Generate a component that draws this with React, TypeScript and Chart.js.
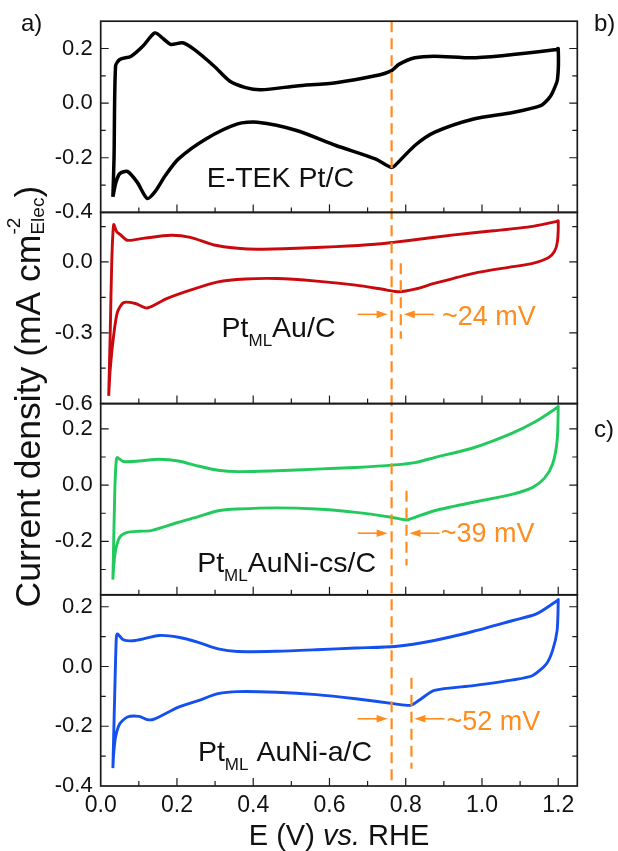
import React, { useEffect, useRef } from 'react';
import { Chart, registerables } from 'chart.js';

Chart.register(...registerables);

const FONT = '"Liberation Sans", Arial, Helvetica, sans-serif';
const ORANGE = '#FF8C1E';
const FRAME = '#1a1a1a';

// ---------- axis text ----------
const X_TICK_LABELS = ['0.0', '0.2', '0.4', '0.6', '0.8', '1.0', '1.2'];
const Y1_TICK_LABELS = ['-0.4', '-0.2', '0.0', '0.2'];
const Y2_TICK_LABELS = ['-0.6', '-0.3', '0.0'];
const Y3_TICK_LABELS = ['-0.2', '0.0', '0.2'];
const Y4_TICK_LABELS = ['-0.4', '-0.2', '0.0', '0.2'];

// ---------- E-TEK Pt/C (black) ----------
const ETEK_E = [
  0.032, 0.035, 0.039, 0.05, 0.08, 0.111, 0.142, 0.165, 0.184, 0.215, 0.246, 0.297, 0.338, 0.38, 0.421,
  0.514, 0.617, 0.72, 0.762, 0.782, 0.824, 0.875, 0.978, 1.081, 1.195, 1.2,
  1.198, 1.185, 1.174, 1.154, 1.081, 0.978, 0.875, 0.824, 0.772, 0.762, 0.72, 0.617, 0.514, 0.411,
  0.359, 0.276, 0.204, 0.17, 0.142, 0.122, 0.096, 0.07, 0.05, 0.04, 0.032,
];
const ETEK_J = [
  -0.343, -0.2, 0.136, 0.16, 0.172, 0.209, 0.257, 0.235, 0.215, 0.221, 0.196, 0.136, 0.081, 0.057, 0.049,
  0.063, 0.075, 0.1, 0.118, 0.142, 0.166, 0.172, 0.166, 0.178, 0.196, 0.2,
  0.087, 0.039, 0.015, -0.009, -0.034, -0.058, -0.107, -0.155, -0.228, -0.235, -0.204, -0.155, -0.1, -0.07,
  -0.076, -0.131, -0.204, -0.264, -0.325, -0.349, -0.29, -0.25, -0.258, -0.29, -0.343,
];

// ---------- PtML Au/C (red) ----------
const PTAU_E = [
  0.021, 0.025, 0.029, 0.034, 0.042, 0.05, 0.07, 0.111, 0.184, 0.235, 0.297, 0.359, 0.411, 0.514, 0.617,
  0.72, 0.772, 0.824, 0.927, 1.03, 1.133, 1.197, 1.2,
  1.198, 1.19, 1.174, 1.133, 1.081, 0.978, 0.875, 0.824, 0.782, 0.751, 0.669, 0.566, 0.462, 0.38, 0.308,
  0.235, 0.173, 0.122, 0.091, 0.06, 0.044, 0.034, 0.025, 0.021,
];
const PTAU_J = [
  -0.567, -0.3, 0.0, 0.158, 0.128, 0.118, 0.092, 0.1, 0.113, 0.104, 0.072, 0.058, 0.054, 0.058, 0.065,
  0.075, 0.084, 0.094, 0.115, 0.132, 0.151, 0.172, 0.175,
  0.087, 0.044, 0.018, -0.006, -0.02, -0.048, -0.091, -0.115, -0.126, -0.119, -0.098, -0.081, -0.07, -0.072, -0.084,
  -0.119, -0.155, -0.195, -0.176, -0.172, -0.212, -0.311, -0.453, -0.567,
];

// ---------- PtML AuNi-cs/C (green) ----------
const PTCS_E = [
  0.032, 0.037, 0.041, 0.044, 0.06, 0.101, 0.153, 0.204, 0.256, 0.308, 0.359, 0.462, 0.566, 0.669, 0.772,
  0.824, 0.875, 0.978, 1.081, 1.143, 1.198, 1.2,
  1.197, 1.185, 1.164, 1.133, 1.081, 0.978, 0.875, 0.813, 0.803, 0.762, 0.669, 0.566, 0.462, 0.359, 0.308,
  0.256, 0.204, 0.132, 0.101, 0.07, 0.05, 0.039, 0.034, 0.032,
];
const PTCS_J = [
  -0.336, -0.02, 0.092, 0.098, 0.084, 0.086, 0.092, 0.086, 0.068, 0.053, 0.048, 0.051, 0.057, 0.063, 0.072,
  0.08, 0.098, 0.133, 0.186, 0.228, 0.277, 0.28,
  0.157, 0.074, 0.025, -0.008, -0.032, -0.061, -0.091, -0.12, -0.124, -0.114, -0.097, -0.085, -0.081, -0.085, -0.091,
  -0.112, -0.132, -0.162, -0.164, -0.168, -0.185, -0.232, -0.291, -0.336,
];

// ---------- PtML AuNi-a/C (blue) ----------
const PTA_E = [
  0.032, 0.037, 0.041, 0.044, 0.06, 0.091, 0.153, 0.204, 0.256, 0.308, 0.359, 0.462, 0.566, 0.669, 0.772,
  0.875, 0.978, 1.081, 1.143, 1.198, 1.2,
  1.197, 1.185, 1.169, 1.133, 1.081, 0.978, 0.875, 0.834, 0.813, 0.772, 0.669, 0.566, 0.462, 0.359, 0.308,
  0.256, 0.204, 0.142, 0.122, 0.101, 0.07, 0.05, 0.039, 0.034, 0.032,
];
const PTA_J = [
  -0.34, -0.08, 0.098, 0.109, 0.089, 0.087, 0.104, 0.098, 0.081, 0.059, 0.05, 0.051, 0.056, 0.062, 0.067,
  0.087, 0.118, 0.154, 0.176, 0.221, 0.224,
  0.12, 0.053, 0.009, -0.03, -0.045, -0.064, -0.08, -0.114, -0.13, -0.125, -0.108, -0.094, -0.086, -0.084, -0.091,
  -0.114, -0.136, -0.175, -0.178, -0.167, -0.169, -0.192, -0.236, -0.292, -0.34,
];

// ---------- annotations ----------
const MAIN_LINE_E = 0.763;
const SHIFT_AXES = ['y2', 'y3', 'y4'];
const SHIFT_MV = [24, 39, 52];
const SHIFT_DASH_J = [[-0.005, -0.325], [-0.02, -0.286], [-0.038, -0.342]];
const SHIFT_ARROW_J = [-0.222, -0.171, -0.175];
const SHIFT_LABEL_E = [0.895, 0.892, 0.907];
const SHIFT_LABEL_J = [-0.266, -0.203, -0.211];

const PANEL_LABEL_E = [0.278, 0.317, 0.253, 0.255];
const PANEL_LABEL_J = [-0.307, -0.318, -0.309, -0.316];

type Run = { t: string; size: number; dy?: number; italic?: boolean; overlap?: boolean };

const PANEL_LABEL_RUNS: Run[][] = [
  [{ t: 'E-TEK Pt/C', size: 28.5 }],
  [{ t: 'Pt', size: 28.5 }, { t: 'ML', size: 17, dy: 9 }, { t: 'Au/C', size: 28.5 }],
  [{ t: 'Pt', size: 28.5 }, { t: 'ML', size: 17, dy: 9 }, { t: 'AuNi-cs/C', size: 28.5 }],
  [{ t: 'Pt', size: 28.5 }, { t: 'ML', size: 17, dy: 9 }, { t: ' AuNi-a/C', size: 28.5 }],
];

const X_TITLE_RUNS: Run[] = [
  { t: 'E (V) ', size: 29 },
  { t: 'vs.', size: 29, italic: true },
  { t: ' RHE', size: 29 },
];
const Y_TITLE_RUNS: Run[] = [
  { t: 'Current density (mA cm', size: 35.5 },
  { t: '-2', size: 19, dy: -20, overlap: true },
  { t: 'Elec', size: 19, dy: 4 },
  { t: ')', size: 35.5 },
];
const CORNER_LABELS = ['a)', 'b)', 'c)'];

const PANELS = [
  { id: 'y1', E: ETEK_E, J: ETEK_J, color: '#000000', width: 3.5, min: -0.4, max: 0.3, step: 0.1, major: 0.2, labels: Y1_TICK_LABELS, weight: 4 },
  { id: 'y2', E: PTAU_E, J: PTAU_J, color: '#C80A0F', width: 2.9, min: -0.6, max: 0.21, step: 0.15, major: 0.3, labels: Y2_TICK_LABELS, weight: 3 },
  { id: 'y3', E: PTCS_E, J: PTCS_J, color: '#22C95C', width: 2.9, min: -0.39, max: 0.29, step: 0.1, major: 0.2, labels: Y3_TICK_LABELS, weight: 2 },
  { id: 'y4', E: PTA_E, J: PTA_J, color: '#1450EE', width: 2.9, min: -0.4, max: 0.24, step: 0.1, major: 0.2, labels: Y4_TICK_LABELS, weight: 1 },
];

const isMultiple = (v: number, s: number) => Math.abs(v / s - Math.round(v / s)) < 1e-6;

function runsWidth(ctx: CanvasRenderingContext2D, runs: Run[]) {
  let w = 0;
  let pending = 0;
  runs.forEach((r) => {
    ctx.font = `${r.italic ? 'italic ' : ''}${r.size}px ${FONT}`;
    const rw = ctx.measureText(r.t).width;
    if (r.overlap) {
      pending = rw;
    } else {
      w += Math.max(rw, pending);
      pending = 0;
    }
  });
  return w + pending;
}

function drawRuns(ctx: CanvasRenderingContext2D, runs: Run[], x: number, y: number, color: string) {
  ctx.save();
  ctx.fillStyle = color;
  ctx.textAlign = 'left';
  ctx.textBaseline = 'alphabetic';
  let cx = x;
  let pending = 0;
  runs.forEach((r) => {
    ctx.font = `${r.italic ? 'italic ' : ''}${r.size}px ${FONT}`;
    const rw = ctx.measureText(r.t).width;
    ctx.fillText(r.t, cx, y + (r.dy || 0));
    if (r.overlap) {
      pending = rw;
    } else {
      cx += Math.max(rw, pending);
      pending = 0;
    }
  });
  ctx.restore();
}

function arrow(ctx: CanvasRenderingContext2D, x0: number, x1: number, y: number) {
  const dir = Math.sign(x1 - x0);
  const headL = 11;
  const headW = 3.8;
  ctx.beginPath();
  ctx.moveTo(x0, y);
  ctx.lineTo(x1 - dir * headL * 0.8, y);
  ctx.stroke();
  ctx.beginPath();
  ctx.moveTo(x1, y);
  ctx.lineTo(x1 - dir * headL, y - headW);
  ctx.lineTo(x1 - dir * headL, y + headW);
  ctx.closePath();
  ctx.fill();
}

const decorPlugin = {
  id: 'decor',
  afterDatasetsDraw(chart: any) {
    const { ctx, chartArea } = chart;
    const xs = chart.scales.x;
    ctx.save();
    ctx.strokeStyle = ORANGE;
    ctx.fillStyle = ORANGE;
    ctx.lineWidth = 2.2;
    ctx.setLineDash([11, 6]);
    const xm = xs.getPixelForValue(MAIN_LINE_E);
    ctx.beginPath();
    ctx.moveTo(xm, chartArea.top);
    ctx.lineTo(xm, chartArea.bottom);
    ctx.stroke();
    SHIFT_AXES.forEach((axis, i) => {
      const ys = chart.scales[axis];
      const xsft = xs.getPixelForValue(MAIN_LINE_E + SHIFT_MV[i] / 1000);
      ctx.setLineDash([11, 6]);
      ctx.lineWidth = 2.2;
      ctx.beginPath();
      ctx.moveTo(xsft, ys.getPixelForValue(SHIFT_DASH_J[i][0]));
      ctx.lineTo(xsft, ys.getPixelForValue(SHIFT_DASH_J[i][1]));
      ctx.stroke();
      ctx.setLineDash([]);
      ctx.lineWidth = 1.6;
      const ay = ys.getPixelForValue(SHIFT_ARROW_J[i]);
      arrow(ctx, xm - 34, xm - 4, ay);
      arrow(ctx, xsft + 33, xsft + 3, ay);
      drawRuns(
        ctx,
        [{ t: `~${SHIFT_MV[i]} mV`, size: 27 }],
        xs.getPixelForValue(SHIFT_LABEL_E[i]),
        ys.getPixelForValue(SHIFT_LABEL_J[i]),
        ORANGE,
      );
    });
    ctx.restore();
  },
  afterDraw(chart: any) {
    const { ctx, chartArea } = chart;
    const xs = chart.scales.x;
    ctx.save();
    ctx.strokeStyle = FRAME;
    ctx.setLineDash([]);
    PANELS.forEach((p, pi) => {
      const ys = chart.scales[p.id];
      const top = ys.top;
      const bottom = ys.bottom;
      const left = chartArea.left;
      const right = chartArea.right;
      ctx.lineWidth = 1.2;
      // y ticks, both sides, inward
      const k0 = Math.ceil(p.min / p.step - 1e-6);
      const k1 = Math.floor(p.max / p.step + 1e-6);
      for (let k = k0; k <= k1; k++) {
        const v = k * p.step;
        if (Math.abs(v - p.min) < 1e-6 || Math.abs(v - p.max) < 1e-6) continue;
        const yy = ys.getPixelForValue(v);
        const len = isMultiple(v, p.major) ? 8 : 5;
        ctx.beginPath();
        ctx.moveTo(left, yy);
        ctx.lineTo(left + len, yy);
        ctx.moveTo(right, yy);
        ctx.lineTo(right - len, yy);
        ctx.stroke();
      }
      // x ticks at bottom of each panel, inward
      for (let k = 1; k <= 12; k++) {
        const v = k * 0.1;
        const xx = xs.getPixelForValue(v);
        const len = k % 2 === 0 ? 8 : 5;
        ctx.beginPath();
        ctx.moveTo(xx, bottom);
        ctx.lineTo(xx, bottom - len);
        ctx.stroke();
      }
      ctx.lineWidth = 1.7;
      ctx.strokeRect(left, top, right - left, bottom - top);
      // panel label
      drawRuns(
        ctx,
        PANEL_LABEL_RUNS[pi],
        xs.getPixelForValue(PANEL_LABEL_E[pi]),
        ys.getPixelForValue(PANEL_LABEL_J[pi]),
        '#111111',
      );
    });

    // x title
    const xw = runsWidth(ctx, X_TITLE_RUNS);
    drawRuns(ctx, X_TITLE_RUNS, (chartArea.left + chartArea.right) / 2 - xw / 2, 845, '#111111');

    // y title (rotated)
    const yw = runsWidth(ctx, Y_TITLE_RUNS);
    ctx.save();
    ctx.translate(39.5, (chartArea.top + chartArea.bottom) / 2 - 7);
    ctx.rotate(-Math.PI / 2);
    drawRuns(ctx, Y_TITLE_RUNS, -yw / 2, 0, '#111111');
    ctx.restore();

    // corner labels
    drawRuns(ctx, [{ t: CORNER_LABELS[0], size: 24 }], 21, 31, '#111111');
    drawRuns(ctx, [{ t: CORNER_LABELS[1], size: 24 }], 594, 31, '#111111');
    drawRuns(ctx, [{ t: CORNER_LABELS[2], size: 24 }], 594, 437, '#111111');
    ctx.restore();
  },
};

export default function App() {
  const ref = useRef<HTMLCanvasElement | null>(null);

  useEffect(() => {
    document.body.style.margin = '0';
    const canvas = ref.current;
    if (!canvas) return;

    const scales: any = {
      x: {
        type: 'linear',
        position: 'bottom',
        min: 0,
        max: 1.25,
        grid: { display: false, drawTicks: false },
        border: { display: false },
        afterBuildTicks: (s: any) => {
          s.ticks = X_TICK_LABELS.map((l) => ({ value: parseFloat(l) }));
        },
        ticks: {
          autoSkip: false,
          maxRotation: 0,
          minRotation: 0,
          padding: 6,
          color: '#111111',
          font: { size: 23, family: FONT },
          callback: (_v: number, i: number) => X_TICK_LABELS[i] || '',
        },
        afterFit: (s: any) => {
          s.height = 65;
        },
      },
    };
    PANELS.forEach((p) => {
      scales[p.id] = {
        type: 'linear',
        position: 'left',
        stack: 'cv',
        stackWeight: 1,
        weight: p.weight,
        min: p.min,
        max: p.max,
        grid: { display: false, drawTicks: false },
        border: { display: false },
        afterBuildTicks: (s: any) => {
          s.ticks = p.labels.map((l) => ({ value: parseFloat(l) }));
        },
        ticks: {
          autoSkip: false,
          padding: 8,
          color: '#111111',
          font: { size: 22, family: FONT },
          callback: (_v: number, i: number) => p.labels[i] || '',
        },
        afterFit: (s: any) => {
          s.width = 100.7;
        },
      };
    });

    const chart = new Chart(canvas, {
      type: 'scatter',
      data: {
        datasets: PANELS.map((p) => ({
          data: p.E.map((e, i) => ({ x: e, y: p.J[i] })),
          xAxisID: 'x',
          yAxisID: p.id,
          showLine: true,
          borderColor: p.color,
          backgroundColor: p.color,
          borderWidth: p.width,
          pointRadius: 0,
          tension: 0.25,
          fill: false,
        })),
      },
      options: {
        animation: false,
        responsive: false,
        events: [],
        layout: { padding: { top: 19, right: 40.7, left: 0, bottom: 0 } },
        plugins: {
          legend: { display: false },
          tooltip: { enabled: false },
          title: { display: false },
        },
        scales,
      },
      plugins: [decorPlugin],
    } as any);

    return () => {
      chart.destroy();
    };
  }, []);

  return (
    <canvas
      ref={ref}
      width={618}
      height={851}
      style={{ display: 'block', width: '618px', height: '851px', background: '#ffffff' }}
    />
  );
}
